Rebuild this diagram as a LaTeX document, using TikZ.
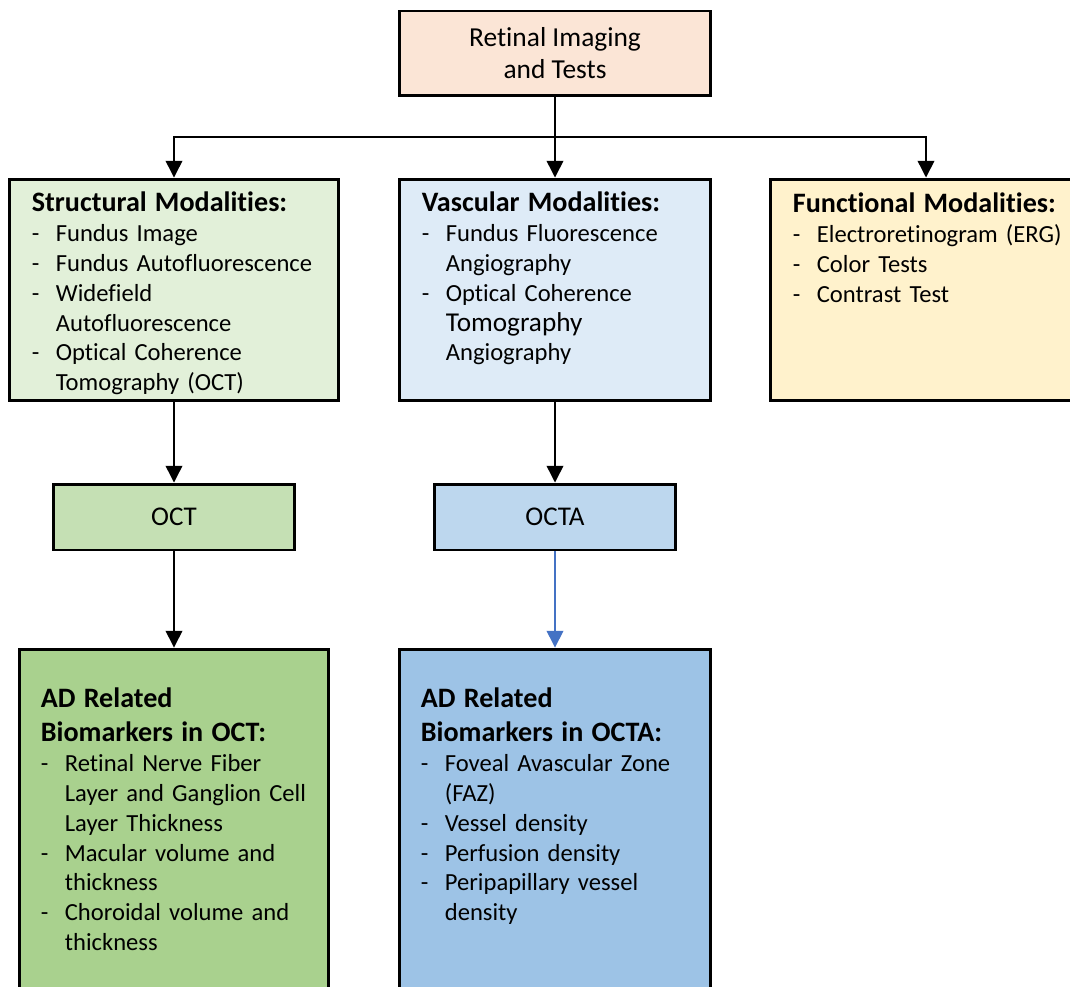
\documentclass[tikz,border=0pt]{standalone}
\usepackage{fontspec}
\setmainfont{Carlito}[Ligatures=NoCommon]
\usetikzlibrary{arrows.meta,positioning}
\definecolor{peach}{HTML}{FBE5D6}
\definecolor{strgreen}{HTML}{E2F0D9}
\definecolor{vasblue}{HTML}{DEEBF7}
\definecolor{funyellow}{HTML}{FFF2CC}
\definecolor{octgreen}{HTML}{C5E0B4}
\definecolor{octablue}{HTML}{BDD7EE}
\definecolor{adgreen}{HTML}{A9D18E}
\definecolor{adblue}{HTML}{9DC3E6}
\definecolor{arrblue}{HTML}{4472C4}
\newcommand{\hd}[1]{{\fontsize{16}{19.3}\selectfont\bfseries #1\par}}
\newcommand{\itm}[1]{\hangindent=0.48cm\hangafter=1\noindent\makebox[0.48cm][l]{-}#1\par}
\tikzset{
  box/.style={draw, line width=1.7pt, inner sep=0pt},
  txt/.style={anchor=north west, inner sep=0pt, text width=6cm, align=left,
    font=\fontsize{14}{17}\selectfont},
  arr/.style={-{Triangle[width=9.5pt,length=9.5pt]}, line width=0.8pt}
}
\begin{document}
\begin{tikzpicture}[x=0.02cm, y=-0.02cm]
      \useasboundingbox (0,0) rectangle (1070,986);
      \clip (0,0) rectangle (1070,986);
      \node[box, fill=peach, minimum width=6.24cm, minimum height=1.7cm, align=center,
        font=\fontsize{15.6}{18.2}\selectfont] (top) at (555,53.5) {Retinal Imaging\\and Tests};
      \node[box, fill=strgreen, minimum width=6.6cm, minimum height=4.44cm] (struct) at (174,290) {};
      \node[box, fill=vasblue, minimum width=6.24cm, minimum height=4.44cm] (vasc) at (555,290) {};
      \node[box, fill=funyellow, minimum width=6.24cm, minimum height=4.44cm] (func) at (926,290) {};
      \node[box, fill=octgreen, minimum width=4.84cm, minimum height=1.32cm,
        font=\fontsize{15.4}{18}\selectfont] (oct) at (174,517) {OCT};
      \node[box, fill=octablue, minimum width=4.84cm, minimum height=1.32cm,
        font=\fontsize{15.4}{18}\selectfont] (octa) at (555,517) {OCTA};
      \node[box, fill=adgreen, minimum width=6.2cm, minimum height=7.22cm] (adoct) at (174,829.5) {};
      \node[box, fill=adblue, minimum width=6.24cm, minimum height=7.22cm] (adocta) at (555,829.5) {};
      \node[txt] (structtxt) at ([shift={(24,14)}]struct.north west)
        {\hd{Structural Modalities:}\itm{Fundus Image}\itm{Fundus Autofluorescence}%
         \itm{Widefield\newline Autofluorescence}\itm{Optical Coherence\newline Tomography (OCT)}};
      \node[txt] (vasctxt) at ([shift={(24,14)}]vasc.north west)
        {\hd{Vascular Modalities:}\itm{Fundus Fluorescence\newline Angiography}%
         \itm{Optical Coherence\newline {\fontsize{15.5}{17}\selectfont Tomography}\newline Angiography}};
      \node[txt] (functxt) at ([shift={(24,15)}]func.north west)
        {\hd{Functional Modalities:}\itm{Electroretinogram (ERG)}\itm{Color Tests}\itm{Contrast Test}};
      \node[txt] (adocttxt) at ([shift={(23,40)}]adoct.north west)
        {\hd{AD Related\\Biomarkers in OCT:}\itm{Retinal Nerve Fiber\newline Layer and Ganglion Cell\newline Layer Thickness}%
         \itm{Macular volume and\newline thickness}\itm{Choroidal volume and\newline thickness}};
      \node[txt] (adoctatxt) at ([shift={(23,40)}]adocta.north west)
        {\hd{AD Related\\Biomarkers in OCTA:}\itm{Foveal Avascular Zone\newline (FAZ)}\itm{Vessel density}%
         \itm{Perfusion density}\itm{Peripapillary vessel\newline density}};
      \coordinate (junc) at (555,137);
      \begin{scope}[arr]
        \draw[-] (top) to (junc);
        \draw (junc) -| (struct);
        \draw (junc) to (vasc);
        \draw (junc) -| (func);
        \draw (struct) to (oct);
        \draw (vasc) to (octa);
        \draw (oct) to (adoct);
        \draw[arrblue] (octa) to (adocta);
      \end{scope}
    \end{tikzpicture}
\end{document}
